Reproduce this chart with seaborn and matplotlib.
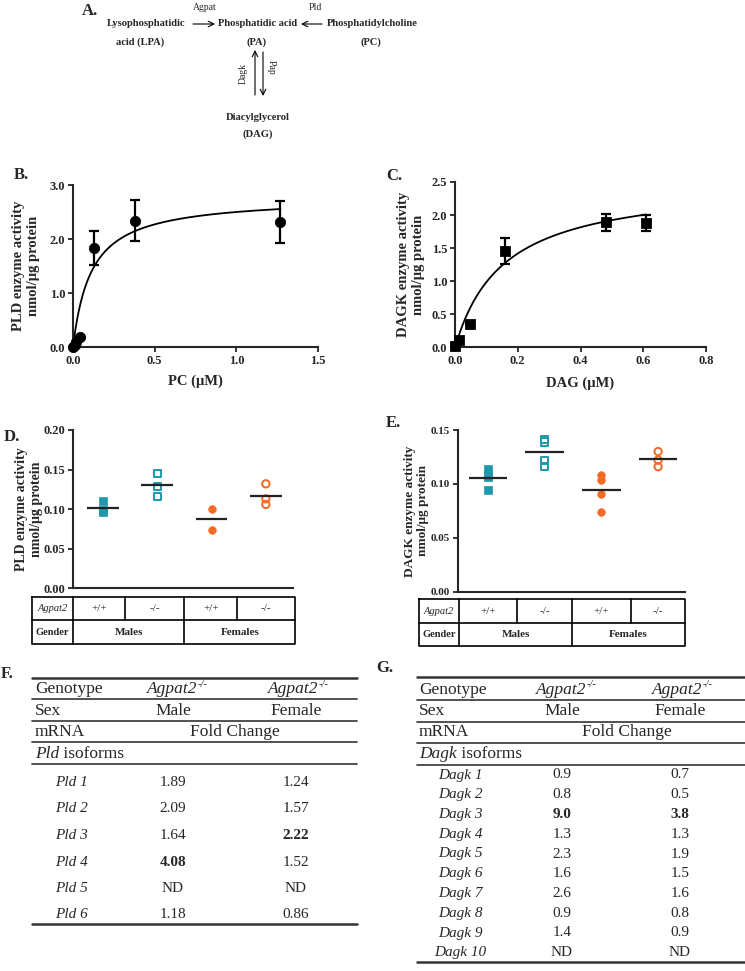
import numpy as np
import pandas as pd
import matplotlib
matplotlib.use("Agg")
import matplotlib.pyplot as plt
import seaborn as sns

# ---------------- data ----------------
# B. PLD activity vs PC concentration (mean, SEM)
pc_um = [0.0, 0.01, 0.02, 0.04, 0.13, 0.38, 1.27]
pld_activity = [0.0, 0.04, 0.09, 0.18, 1.83, 2.34, 2.32]
pld_sem = [0.0, 0.0, 0.0, 0.0, 0.31, 0.38, 0.39]
pld_vmax, pld_km = 2.78, 0.112      # Michaelis-Menten fit

# C. DAGK activity vs DAG concentration
dag_um = [0.0, 0.012, 0.048, 0.16, 0.48, 0.61]
dagk_activity = [0.02, 0.12, 0.35, 1.46, 1.89, 1.88]
dagk_sem = [0.0, 0.0, 0.0, 0.20, 0.125, 0.125]
dagk_vmax, dagk_km = 2.52, 0.155

# D / E. individual animals
pld_m_wt = [0.110, 0.099, 0.097]
pld_m_ko = [0.145, 0.129, 0.116]
pld_f_wt = [0.100, 0.074]
pld_f_ko = [0.132, 0.113, 0.106]
dagk_m_wt = [0.114, 0.108, 0.106, 0.094]
dagk_m_ko = [0.141, 0.139, 0.122, 0.116]
dagk_f_wt = [0.108, 0.104, 0.091, 0.074]
dagk_f_ko = [0.130, 0.122, 0.116]

agpat2_row = ["+/+", "-/-", "+/+", "-/-"]
gender_row = ["Males", "Females"]

# F / G. fold change tables
pld_isoforms = ["Pld 1", "Pld 2", "Pld 3", "Pld 4", "Pld 5", "Pld 6"]
pld_male = ["1.89", "2.09", "1.64", "4.08", "ND", "1.18"]
pld_female = ["1.24", "1.57", "2.22", "1.52", "ND", "0.86"]
pld_bold_male = [3]
pld_bold_female = [2]

dagk_isoforms = ["Dagk 1", "Dagk 2", "Dagk 3", "Dagk 4", "Dagk 5",
                 "Dagk 6", "Dagk 7", "Dagk 8", "Dagk 9", "Dagk 10"]
dagk_male = ["0.9", "0.8", "9.0", "1.3", "2.3", "1.6", "2.6", "0.9", "1.4", "ND"]
dagk_female = ["0.7", "0.5", "3.8", "1.3", "1.9", "1.5", "1.6", "0.8", "0.9", "ND"]
dagk_bold_male = [2]
dagk_bold_female = [2]

TEAL = "#1f97ad"
ORANGE = "#f26a24"

# ---------------- style ----------------
sns.set_style("ticks")
plt.rcParams["font.family"] = ["Liberation Serif", "DejaVu Serif"]

W, H = 745, 971
fig = plt.figure(figsize=(W / 100, H / 100), dpi=100)
renderer = fig.canvas.get_renderer()

ov = fig.add_axes([0, 0, 1, 1])
ov.set_xlim(0, W)
ov.set_ylim(H, 0)
ov.axis("off")


def box(l, t, r, b):
    return [l / W, 1 - b / H, (r - l) / W, (b - t) / H]


def style_axes(ax, tick_size=9):
    sns.despine(ax=ax)
    for s in ["left", "bottom"]:
        ax.spines[s].set_linewidth(1.5)
    ax.tick_params(direction="out", length=3.5, width=1.3, labelsize=tick_size, pad=2)
    for lab in ax.get_xticklabels() + ax.get_yticklabels():
        lab.set_fontweight("bold")
    ax.set_facecolor("none")


def sup_text(x, y, main, sup, size):
    # italic gene name with small superscript, centred on x
    t1 = ov.text(0, y, main, fontsize=size, style="italic", ha="left", va="center")
    t2 = ov.text(0, y - size * 0.42, sup, fontsize=size * 0.6, style="italic",
                 ha="left", va="center")
    w1 = t1.get_window_extent(renderer).width
    w2 = t2.get_window_extent(renderer).width
    start = x - (w1 + w2) / 2
    t1.set_x(start)
    t2.set_x(start + w1 + 0.5)


# ---------------- A. pathway ----------------
bold = dict(fontweight="bold", fontsize=7.6, ha="center", va="center")
ov.text(90, 11, "A.", fontsize=12, fontweight="bold", ha="center", va="center")
ov.text(146, 24, "Lysophosphatidic", **bold)
ov.text(140, 42, "acid (LPA)", **bold)
ov.text(258, 24, "Phosphatidic acid", **bold)
ov.text(257, 42, "(PA)", **bold)
ov.text(372, 24, "Phosphatidylcholine", **bold)
ov.text(371, 42, "(PC)", **bold)
ov.text(258, 117, "Diacylglycerol", **bold)
ov.text(258, 134, "(DAG)", **bold)
small = dict(fontsize=7, ha="center", va="center")
ov.text(205, 7, "Agpat", **small)
ov.text(315, 7, "Pld", **small)
ov.text(243, 73, "Dagk", rotation=90, **small)
ov.text(271, 67, "Pap", rotation=-90, **small)
arr = dict(arrowstyle="->", lw=0.8, color="black", shrinkA=0, shrinkB=0)
ov.annotate("", xy=(215, 24), xytext=(193, 24), arrowprops=arr)
ov.annotate("", xy=(301, 24), xytext=(322, 24), arrowprops=arr)
ov.annotate("", xy=(255, 50), xytext=(255, 95), arrowprops=arr)
ov.annotate("", xy=(263, 96), xytext=(263, 52), arrowprops=arr)

# ---------------- B. PLD kinetics ----------------
axb = fig.add_axes(box(73, 185, 318, 347))
xfit = np.linspace(0, max(pc_um), 300)
sns.lineplot(x=xfit, y=pld_vmax * xfit / (pld_km + xfit), color="black", lw=1.3, ax=axb)
axb.errorbar(pc_um, pld_activity, yerr=pld_sem, fmt="none", ecolor="black",
             elinewidth=1.6, capsize=3.5, capthick=1.6, clip_on=False)
sns.scatterplot(x=pc_um, y=pld_activity, marker="o", s=55, color="black",
                edgecolor="black", clip_on=False, zorder=5, ax=axb)
axb.set_xlim(0, 1.5)
axb.set_ylim(0, 3.0)
axb.set_xticks([0, 0.5, 1.0, 1.5])
axb.set_yticks([0, 1.0, 2.0, 3.0])
axb.xaxis.set_major_formatter("{x:.1f}")
axb.yaxis.set_major_formatter("{x:.1f}")
style_axes(axb)
axb.set_xlabel("PC (\u03bcM)", fontsize=10.5, fontweight="bold")
axb.xaxis.set_label_coords(0.5, -0.21)
axb.xaxis.label.set_va("center")
axb.set_ylabel("PLD enzyme activity\nnmol/\u03bcg protein", fontsize=10.5,
               fontweight="bold", linespacing=1.2)
axb.yaxis.set_label_coords(-0.19, 0.5)
axb.yaxis.label.set_va("center")
ov.text(21, 175, "B.", fontsize=12, fontweight="bold", ha="center", va="center")

# ---------------- C. DAGK kinetics ----------------
axc = fig.add_axes(box(455, 182, 706, 347.5))
xfit = np.linspace(0, max(dag_um), 300)
sns.lineplot(x=xfit, y=dagk_vmax * xfit / (dagk_km + xfit), color="black", lw=1.3, ax=axc)
axc.errorbar(dag_um, dagk_activity, yerr=dagk_sem, fmt="none", ecolor="black",
             elinewidth=1.6, capsize=3.5, capthick=1.6, clip_on=False)
sns.scatterplot(x=dag_um, y=dagk_activity, marker="s", s=50, color="black",
                edgecolor="black", clip_on=False, zorder=5, ax=axc)
axc.set_xlim(0, 0.8)
axc.set_ylim(0, 2.5)
axc.set_xticks([0, 0.2, 0.4, 0.6, 0.8])
axc.set_yticks([0, 0.5, 1.0, 1.5, 2.0, 2.5])
axc.xaxis.set_major_formatter("{x:.1f}")
axc.yaxis.set_major_formatter("{x:.1f}")
style_axes(axc)
axc.set_xlabel("DAG (\u03bcM)", fontsize=10.5, fontweight="bold")
axc.xaxis.set_label_coords(0.5, -0.214)
axc.xaxis.label.set_va("center")
axc.set_ylabel("DAGK enzyme activity\nnmol/\u03bcg protein", fontsize=10.5,
               fontweight="bold", linespacing=1.2)
axc.yaxis.set_label_coords(-0.175, 0.5)
axc.yaxis.label.set_va("center")
ov.text(394, 176, "C.", fontsize=12, fontweight="bold", ha="center", va="center")

# ---------------- D / E. scatter with means ----------------
group_styles = [(TEAL, "s", True), (TEAL, "s", False),
                (ORANGE, "o", True), (ORANGE, "o", False)]


def dot_panel(ax, values, half):
    df = pd.DataFrame([(i, v) for i, vals in enumerate(values) for v in vals],
                      columns=["pos", "value"])
    for i, (col, mk, filled) in enumerate(group_styles):
        sub = df[df["pos"] == i]
        if filled:
            sns.scatterplot(data=sub, x="pos", y="value", marker=mk, s=30,
                            color=col, edgecolor=col, linewidth=0.5, zorder=3, ax=ax)
        else:
            sns.scatterplot(data=sub, x="pos", y="value", marker=mk, s=28,
                            facecolor="none", edgecolor=col, linewidth=1.4, zorder=3, ax=ax)
    means = df.groupby("pos")["value"].mean()
    ax.hlines(means.values, means.index - half, means.index + half,
              color="#222222", lw=1.6, zorder=4)
    ax.set_xticks([])
    ax.set_xlabel("")


def geno_table(xs, ys):
    lw = 1.2
    ov.plot([xs[0], xs[-1], xs[-1], xs[0], xs[0]], [ys[0], ys[0], ys[2], ys[2], ys[0]],
            color="black", lw=lw)
    ov.plot([xs[0], xs[-1]], [ys[1], ys[1]], color="black", lw=lw)
    for x in xs[1:-1]:
        ov.plot([x, x], [ys[0], ys[1]], color="black", lw=lw)
    for x in (xs[1], xs[3]):
        ov.plot([x, x], [ys[1], ys[2]], color="black", lw=lw)
    r1 = (ys[0] + ys[1]) / 2
    r2 = (ys[1] + ys[2]) / 2
    ov.text((xs[0] + xs[1]) / 2, r1, "Agpat2", fontsize=7.5, style="italic", ha="center", va="center")
    ov.text((xs[0] + xs[1]) / 2, r2, "Gender", fontsize=7.5, fontweight="bold", ha="center", va="center")
    for i, g in enumerate(agpat2_row):
        ov.text((xs[i + 1] + xs[i + 2]) / 2, r1, g, fontsize=8, ha="center", va="center")
    for i, g in enumerate(gender_row):
        ov.text((xs[2 * i + 1] + xs[2 * i + 3]) / 2, r2, g, fontsize=8,
                fontweight="bold", ha="center", va="center")


axd = fig.add_axes(box(73, 430, 293, 588.3))
dot_panel(axd, [pld_m_wt, pld_m_ko, pld_f_wt, pld_f_ko], 0.29)
axd.set_xlim(-0.55, 3.5)
axd.set_ylim(0, 0.20)
axd.set_yticks([0, 0.05, 0.10, 0.15, 0.20])
axd.yaxis.set_major_formatter("{x:.2f}")
style_axes(axd)
axd.set_ylabel("PLD enzyme activity\nnmol/\u03bcg protein", fontsize=10,
               fontweight="bold", linespacing=1.2)
axd.yaxis.set_label_coords(-0.2, 0.5)
axd.yaxis.label.set_va("center")
ov.text(12, 437, "D.", fontsize=12, fontweight="bold", ha="center", va="center")
geno_table([31.7, 73.3, 125.3, 184.3, 237.3, 295.3], [597.3, 620.5, 644.3])

axe = fig.add_axes(box(458, 430, 685.3, 591.7))
dot_panel(axe, [dagk_m_wt, dagk_m_ko, dagk_f_wt, dagk_f_ko], 0.34)
axe.set_xlim(-0.53, 3.48)
axe.set_ylim(0, 0.15)
axe.set_yticks([0, 0.05, 0.10, 0.15])
axe.yaxis.set_major_formatter("{x:.2f}")
style_axes(axe, 8)
axe.set_ylabel("DAGK enzyme activity\nnmol/\u03bcg protein", fontsize=9.5,
               fontweight="bold", linespacing=1.05)
axe.yaxis.set_label_coords(-0.183, 0.5)
axe.yaxis.label.set_va("center")
ov.text(393, 423, "E.", fontsize=12, fontweight="bold", ha="center", va="center")
geno_table([418.7, 459.3, 517, 572, 631, 685.3], [599, 623.3, 645.7])


# ---------------- F / G. fold change tables ----------------
def fold_table(x0, x1, lines, heads, rows, label_x, iso_x, male_x, female_x,
               fc_x, gene, isoforms, male, female, bold_m, bold_f, hs=12.5, rs=11):
    c = "#333333"
    for k, y in enumerate(lines):
        thick = k == 0 or k == len(lines) - 1
        ov.plot([x0, x1], [y, y], color=c, lw=1.8 if thick else 1.2)
    kw = dict(fontsize=hs, va="center")
    ov.text(label_x, heads[0], "Genotype", ha="left", **kw)
    sup_text(male_x + 4, heads[0], "Agpat2", "-/-", hs)
    sup_text(female_x + 2, heads[0], "Agpat2", "-/-", hs)
    ov.text(label_x, heads[1], "Sex", ha="left", **kw)
    ov.text(male_x, heads[1], "Male", ha="center", **kw)
    ov.text(female_x, heads[1], "Female", ha="center", **kw)
    ov.text(label_x, heads[2], "mRNA", ha="left", **kw)
    ov.text(fc_x, heads[2], "Fold Change", ha="center", **kw)
    t = ov.text(label_x, heads[3], gene, ha="left", style="italic", **kw)
    w = t.get_window_extent(renderer).width
    ov.text(label_x + w, heads[3], " isoforms", ha="left", **kw)
    for i, y in enumerate(rows):
        ov.text(iso_x, y, isoforms[i], fontsize=rs, style="italic", ha="center", va="center")
        ov.text(male_x, y, male[i], fontsize=rs, ha="center", va="center",
                fontweight="bold" if i in bold_m else "normal")
        ov.text(female_x, y, female[i], fontsize=rs, ha="center", va="center",
                fontweight="bold" if i in bold_f else "normal")


ov.text(7, 674, "F.", fontsize=12, fontweight="bold", ha="center", va="center")
fold_table(31.7, 356.7, [677.7, 699, 720.7, 741.7, 764, 924],
           [689.3, 711, 732.3, 754], [782.5 + 26.5 * i for i in range(len(pld_isoforms))],
           35, 71.5, 173, 296, 235, "Pld", pld_isoforms, pld_male, pld_female,
           pld_bold_male, pld_bold_female)

ov.text(385, 668, "G.", fontsize=12, fontweight="bold", ha="center", va="center")
fold_table(417, 745, [677.3, 700, 721.7, 743.3, 765, 961.7],
           [689.5, 711, 732, 753.5], [775 + 19.75 * i for i in range(len(dagk_isoforms))],
           419, 460, 562, 680, 627, "Dagk", dagk_isoforms, dagk_male, dagk_female,
           dagk_bold_male, dagk_bold_female)

fig.savefig("out.png", dpi=100)
